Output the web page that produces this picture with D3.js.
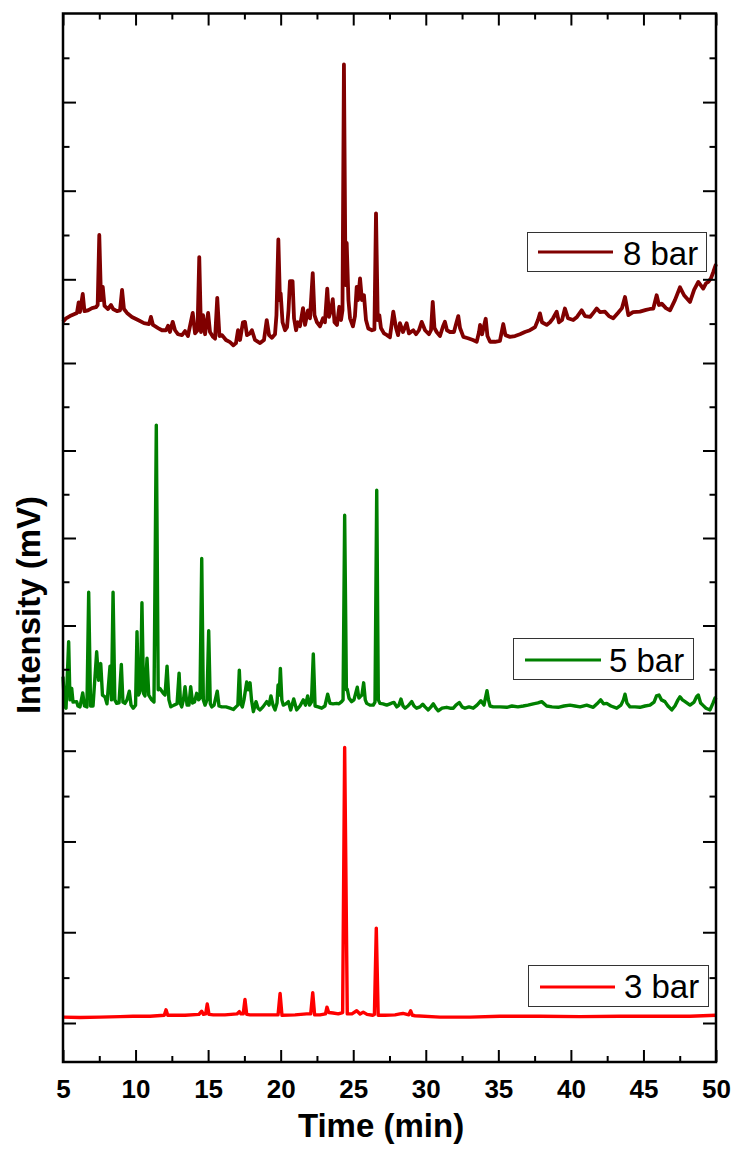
<!DOCTYPE html>
<html>
<head>
<meta charset="utf-8">
<script src="https://cdn.jsdelivr.net/npm/d3@7"></script>
<style>
  body { margin: 0; background: #fff; }
  svg { display: block; }
</style>
</head>
<body>
<svg id="chart" width="736" height="1149"></svg>
<script>
// Retention time axis (min)
const timeMajorTicks = [5, 10, 15, 20, 25, 30, 35, 40, 45, 50];
const timeMinorTicks = [7.5, 12.5, 17.5, 22.5, 27.5, 32.5, 37.5, 42.5, 47.5];

// Intensity tick values for each stacked layer (mV)
const ticks8 = [90, 100, 110, 120, 130, 140, 150];
const ticks5 = [0, 10, 20, 30, 40, 50, 60, 70, 80];
const ticks3 = [0, 10, 20, 30, 40, 50, 60];

const seriesNames = ["8 bar", "5 bar", "3 bar"];
const seriesColors = ["#800000", "#008000", "#ff0000"];
const seriesWidths = [3.8, 3.4, 3.4];

// Chromatogram at 8 bar: [time (min), intensity (mV)]
const bar8 = [
[5.00,90.4],[5.21,91.2],[5.48,91.7],[5.76,92.1],[5.96,92.4],[6.08,94.8],[6.17,92.6],[6.36,96.7],[6.48,92.8],[6.72,93.0],
[7.00,93.5],[7.27,93.7],[7.39,94.2],[7.50,110.0],[7.62,95.3],[7.74,98.3],[7.86,94.0],[8.10,93.3],[8.31,94.2],[8.45,93.3],
[8.72,92.8],[8.93,93.0],[9.07,97.6],[9.20,93.3],[9.41,92.4],[9.75,91.5],[10.17,90.8],[10.58,90.1],[10.93,89.9],[11.06,91.5],
[11.20,89.7],[11.55,89.0],[11.82,88.5],[12.10,88.5],[12.24,89.5],[12.37,88.1],[12.56,90.4],[12.72,88.5],[12.92,87.6],[13.20,87.4],
[13.41,88.3],[13.61,87.2],[13.94,92.4],[14.10,87.8],[14.27,88.5],[14.39,105.0],[14.51,88.1],[14.65,91.9],[14.79,87.6],[15.00,92.4],
[15.13,88.1],[15.34,87.0],[15.48,86.6],[15.63,95.8],[15.78,87.2],[15.96,87.4],[16.23,86.3],[16.51,85.8],[16.74,85.1],[16.92,85.6],
[17.06,88.5],[17.20,86.3],[17.40,90.3],[17.54,90.4],[17.68,87.4],[17.89,87.8],[18.02,88.5],[18.23,86.3],[18.58,85.6],[18.85,86.3],
[19.04,90.8],[19.20,87.4],[19.40,86.8],[19.61,87.6],[19.71,91.9],[19.84,109.0],[19.95,95.3],[20.00,96.8],[20.13,90.3],[20.30,88.5],
[20.44,89.2],[20.54,93.0],[20.64,99.6],[20.82,99.6],[20.92,91.2],[21.06,88.5],[21.19,90.3],[21.33,89.4],[21.54,93.5],[21.68,89.7],
[21.88,93.0],[22.02,91.2],[22.21,101.4],[22.33,91.9],[22.50,90.3],[22.71,89.4],[22.92,91.2],[23.05,90.3],[23.21,97.9],[23.33,91.5],
[23.47,93.0],[23.59,95.5],[23.71,90.3],[23.88,89.7],[24.04,93.8],[24.16,90.8],[24.26,93.0],[24.36,148.5],[24.47,98.7],[24.55,108.2],
[24.67,95.3],[24.78,91.2],[24.98,89.4],[25.12,91.7],[25.24,98.3],[25.33,95.3],[25.47,100.2],[25.60,95.3],[25.74,96.4],[25.88,90.8],
[26.04,88.9],[26.29,88.5],[26.46,88.7],[26.57,114.9],[26.69,90.8],[26.80,91.9],[26.91,89.0],[27.12,87.8],[27.33,87.4],[27.53,86.9],
[27.76,92.7],[27.95,89.0],[28.09,87.4],[28.22,90.1],[28.43,88.1],[28.68,90.1],[28.84,87.8],[29.14,88.5],[29.33,87.6],[29.53,88.5],
[29.72,90.4],[29.95,88.5],[30.22,87.6],[30.36,88.5],[30.48,94.9],[30.60,89.0],[30.75,88.1],[30.98,87.2],[31.19,89.4],[31.32,90.4],
[31.46,88.5],[31.67,88.1],[31.94,88.1],[32.12,90.3],[32.24,91.7],[32.36,89.0],[32.59,87.0],[32.91,86.7],[33.25,86.3],[33.51,85.9],
[33.67,88.1],[33.74,89.7],[33.88,87.6],[34.13,91.1],[34.25,87.2],[34.43,85.9],[34.77,85.9],[35.11,86.1],[35.34,89.9],[35.49,87.4],
[35.80,87.0],[36.15,87.2],[36.49,87.6],[36.83,88.1],[37.18,88.5],[37.53,89.2],[37.73,90.8],[37.87,92.3],[38.01,90.3],[38.33,89.7],
[38.56,90.3],[38.77,91.2],[39.02,92.7],[39.18,90.3],[39.39,90.8],[39.59,93.4],[39.80,91.2],[40.16,90.8],[40.42,91.5],[40.74,93.0],
[40.97,91.7],[41.32,91.5],[41.59,92.6],[41.78,93.4],[42.00,92.6],[42.35,92.7],[42.62,91.7],[42.92,91.2],[43.24,92.4],[43.52,93.5],
[43.73,96.0],[43.96,91.9],[44.28,92.6],[44.76,92.7],[45.18,93.1],[45.45,93.3],[45.68,93.4],[45.91,96.4],[46.07,94.2],[46.26,94.5],
[46.55,93.5],[46.83,93.0],[47.17,95.3],[47.52,98.2],[47.80,96.4],[48.21,94.9],[48.49,97.6],[48.78,99.4],[49.12,97.9],[49.31,99.1],
[49.47,99.4],[49.65,100.2],[49.81,101.6],[50.00,103.4]
];

// Chromatogram at 5 bar
const bar5 = [
[5.00,8.3],[5.10,1.6],[5.21,1.1],[5.39,16.3],[5.48,3.0],[5.60,5.6],[5.69,2.5],[5.94,2.6],[6.03,1.6],[6.17,1.4],
[6.36,4.6],[6.48,1.6],[6.65,1.4],[6.77,27.6],[6.90,1.6],[7.07,1.6],[7.32,14.0],[7.45,7.5],[7.60,11.3],[7.72,4.1],
[7.89,3.7],[8.03,2.1],[8.24,10.7],[8.34,3.0],[8.45,27.6],[8.57,3.0],[8.70,2.2],[8.86,2.3],[9.02,11.1],[9.13,2.5],
[9.27,2.2],[9.41,3.0],[9.57,5.0],[9.69,1.8],[9.84,1.1],[10.00,1.8],[10.10,18.6],[10.20,4.1],[10.26,4.5],[10.34,5.3],
[10.44,25.2],[10.55,4.5],[10.65,3.9],[10.79,12.5],[10.91,4.1],[11.11,3.0],[11.27,2.5],[11.43,65.8],[11.56,5.3],[11.68,5.6],
[11.91,4.5],[12.03,4.1],[12.17,10.7],[12.30,3.0],[12.43,1.4],[12.65,1.8],[12.86,2.1],[13.00,9.1],[13.10,2.1],[13.18,1.4],
[13.30,3.0],[13.41,6.0],[13.55,1.8],[13.68,1.8],[13.80,6.0],[13.93,2.3],[14.06,2.5],[14.21,4.5],[14.34,3.0],[14.44,3.4],
[14.56,35.3],[14.67,3.0],[14.79,1.8],[14.92,3.0],[15.04,18.8],[15.15,2.1],[15.25,1.4],[15.41,1.8],[15.63,5.0],[15.75,1.6],
[15.94,1.4],[16.23,1.4],[16.51,1.1],[16.74,0.8],[16.92,1.4],[17.05,1.8],[17.15,9.8],[17.25,2.1],[17.36,1.4],[17.47,3.0],
[17.66,7.1],[17.76,5.3],[17.89,6.9],[17.99,3.0],[18.12,0.3],[18.30,2.6],[18.44,1.1],[18.58,0.7],[18.78,1.4],[19.04,2.6],
[19.20,1.8],[19.33,3.9],[19.47,1.8],[19.61,0.7],[19.75,2.3],[19.82,6.4],[19.90,4.1],[19.98,10.2],[20.08,3.0],[20.18,1.8],
[20.37,2.1],[20.53,2.6],[20.69,0.7],[20.90,3.2],[21.10,0.7],[21.33,1.6],[21.56,3.0],[21.71,1.8],[21.86,3.9],[21.99,1.8],
[22.12,2.5],[22.25,13.5],[22.37,1.6],[22.58,1.4],[22.83,1.1],[23.05,1.6],[23.24,4.3],[23.40,2.2],[23.61,2.1],[23.86,2.2],
[24.02,2.1],[24.20,2.6],[24.30,3.0],[24.41,45.2],[24.53,5.3],[24.59,5.4],[24.71,3.4],[24.89,2.6],[25.05,3.0],[25.28,5.9],
[25.39,3.4],[25.47,3.7],[25.60,4.1],[25.72,6.9],[25.83,3.0],[25.93,2.2],[26.15,1.8],[26.38,1.8],[26.50,2.5],[26.62,50.9],
[26.73,3.0],[26.84,2.2],[27.05,2.1],[27.31,1.8],[27.53,2.1],[27.67,2.3],[27.81,2.4],[28.00,1.4],[28.15,1.8],[28.29,3.2],
[28.43,1.6],[28.57,1.1],[28.77,1.6],[29.03,2.6],[29.19,1.6],[29.37,1.1],[29.60,1.4],[29.79,2.0],[29.95,1.4],[30.17,0.7],
[30.36,1.4],[30.52,2.1],[30.70,1.1],[30.86,0.5],[31.12,1.1],[31.44,1.3],[31.67,1.1],[31.90,1.1],[32.08,1.8],[32.31,2.4],
[32.50,1.4],[32.70,1.1],[32.98,1.4],[33.27,1.1],[33.53,1.8],[33.80,2.8],[34.01,1.8],[34.11,3.4],[34.22,5.1],[34.32,3.0],
[34.43,1.6],[34.65,1.4],[35.11,1.4],[35.58,1.3],[35.94,1.6],[36.35,1.4],[36.72,1.6],[37.04,1.8],[37.41,2.1],[37.73,2.3],
[37.99,2.6],[38.33,1.6],[38.70,1.4],[39.13,1.3],[39.52,1.6],[39.94,1.8],[40.28,1.6],[40.63,1.4],[41.09,1.8],[41.54,1.3],
[41.80,2.1],[42.05,3.0],[42.25,2.1],[42.47,2.2],[42.76,1.6],[43.16,1.1],[43.45,1.8],[43.62,3.0],[43.73,4.3],[43.86,2.3],
[44.07,1.4],[44.42,1.4],[44.76,1.3],[45.11,1.6],[45.45,1.8],[45.73,2.5],[45.90,3.9],[46.07,4.1],[46.24,3.0],[46.48,2.6],
[46.69,1.6],[46.95,0.7],[47.17,1.6],[47.38,3.0],[47.52,3.7],[47.69,3.0],[47.87,2.6],[48.21,1.8],[48.49,2.5],[48.66,3.7],
[48.78,4.1],[48.94,2.3],[49.09,1.8],[49.31,1.1],[49.59,0.7],[49.80,2.3],[49.93,3.4],[50.00,3.0]
];

// Chromatogram at 3 bar
const bar3 = [
[5.00,1.3],[6.17,1.2],[7.55,1.3],[8.93,1.4],[9.82,1.5],[11.00,1.5],[11.98,1.7],[12.10,2.9],[12.22,1.7],[13.41,1.7],
[14.37,1.9],[14.56,2.6],[14.68,1.9],[14.83,2.0],[14.94,4.2],[15.06,1.9],[15.36,1.8],[16.16,1.8],[16.99,2.0],[17.15,2.5],
[17.27,2.0],[17.42,2.0],[17.54,5.2],[17.66,1.9],[17.89,1.8],[18.92,1.8],[19.82,1.8],[19.96,6.5],[20.09,1.7],[20.99,1.8],
[21.79,2.0],[22.07,2.0],[22.21,6.7],[22.34,1.8],[22.71,1.8],[23.09,2.0],[23.19,3.5],[23.31,2.3],[23.61,2.2],[23.97,2.0],
[24.27,2.3],[24.41,60.7],[24.59,2.0],[24.91,2.0],[25.24,2.7],[25.47,2.0],[25.69,2.4],[25.95,1.9],[26.34,1.7],[26.46,1.9],
[26.59,20.9],[26.72,1.7],[27.19,1.7],[27.88,1.8],[28.22,2.0],[28.43,2.1],[28.83,1.8],[28.96,2.7],[29.08,1.7],[29.26,1.6],
[30.98,1.3],[33.05,1.3],[35.11,1.5],[37.87,1.5],[40.63,1.4],[43.38,1.5],[46.14,1.5],[48.21,1.5],[50.00,1.7]
];

const svg = d3.select("#chart");
const plot = { left: 63, right: 716, top: 13.5, bottom: 1062 };

const x = d3.scaleLinear().domain([5, 50]).range([plot.left, plot.right]);

// Three stacked layers sharing one frame, each with its own intensity scale
const layers = [
  { data: bar8, y: d3.scaleLinear().domain([80, 160]).range([367.9, 13.5]), ticks: ticks8 },
  { data: bar5, y: d3.scaleLinear().domain([0, 80]).range([713, 363]), ticks: ticks5 },
  { data: bar3, y: d3.scaleLinear().domain([0, 60]).range([1023, 750.7]), ticks: ticks3 }
];

const fontFamily = "'Liberation Sans', Arial, Helvetica, sans-serif";

// Traces
layers.forEach((L, i) => {
  const line = d3.line().x(d => x(d[0])).y(d => L.y(d[1]));
  svg.append("path")
    .datum(L.data)
    .attr("fill", "none")
    .attr("stroke", seriesColors[i])
    .attr("stroke-width", seriesWidths[i])
    .attr("stroke-linejoin", "round")
    .attr("d", line);
});

// Vertical ticks (left and right), majors every 20 mV, minors in between
function styleAxis(g) {
  g.select(".domain").remove();
  g.selectAll(".tick line").attr("stroke", "#000").attr("stroke-width", 2);
  g.selectAll(".tick text").remove();
}
layers.forEach(L => {
  const major = L.ticks.filter(v => v % 20 === 0);
  const minor = L.ticks.filter(v => v % 20 !== 0);
  [[major, 13], [minor, 6.5]].forEach(([vals, len]) => {
    svg.append("g").attr("transform", `translate(${plot.left},0)`)
      .call(d3.axisLeft(L.y).tickValues(vals).tickSize(-len).tickFormat(""))
      .call(styleAxis);
    svg.append("g").attr("transform", `translate(${plot.right},0)`)
      .call(d3.axisRight(L.y).tickValues(vals).tickSize(-len).tickFormat(""))
      .call(styleAxis);
  });
});

// Time ticks on bottom (labelled) and top
svg.append("g").attr("transform", `translate(0,${plot.bottom})`)
  .call(d3.axisBottom(x).tickValues(timeMajorTicks).tickSize(-12).tickFormat(d3.format("d")))
  .call(g => {
    g.select(".domain").remove();
    g.selectAll(".tick line").attr("stroke", "#000").attr("stroke-width", 2);
    g.selectAll(".tick text")
      .attr("y", 36)
      .attr("dy", null)
      .attr("fill", "#000")
      .style("font-family", fontFamily)
      .style("font-weight", "bold")
      .style("font-size", "26px");
  });
svg.append("g").attr("transform", `translate(0,${plot.bottom})`)
  .call(d3.axisBottom(x).tickValues(timeMinorTicks).tickSize(-6).tickFormat(""))
  .call(styleAxis);
svg.append("g").attr("transform", `translate(0,${plot.top})`)
  .call(d3.axisTop(x).tickValues(timeMajorTicks).tickSize(-12).tickFormat(""))
  .call(styleAxis);
svg.append("g").attr("transform", `translate(0,${plot.top})`)
  .call(d3.axisTop(x).tickValues(timeMinorTicks).tickSize(-6).tickFormat(""))
  .call(styleAxis);

// Frame
svg.append("rect")
  .attr("x", plot.left).attr("y", plot.top)
  .attr("width", plot.right - plot.left).attr("height", plot.bottom - plot.top)
  .attr("fill", "none").attr("stroke", "#000").attr("stroke-width", 2.5);

// Axis titles
svg.append("text")
  .attr("x", 381).attr("y", 1137)
  .attr("text-anchor", "middle")
  .style("font-family", fontFamily).style("font-weight", "bold").style("font-size", "33px")
  .text("Time (min)");
svg.append("text")
  .attr("transform", "translate(40,605) rotate(-90)")
  .attr("text-anchor", "middle")
  .style("font-family", fontFamily).style("font-weight", "bold").style("font-size", "33px")
  .text("Intensity (mV)");

// Legends, one per layer
const legendBoxes = [
  { x: 527, y: 232, w: 179, h: 39, lx1: 538, lx2: 613, ly: 252, tx: 623, ty: 265 },
  { x: 513, y: 638, w: 180, h: 41, lx1: 525, lx2: 601, ly: 660, tx: 609, ty: 672 },
  { x: 528, y: 965, w: 180, h: 41, lx1: 540, lx2: 615, ly: 987, tx: 624, ty: 998 }
];
legendBoxes.forEach((b, i) => {
  const g = svg.append("g");
  g.append("rect").attr("x", b.x + 0.5).attr("y", b.y + 0.5).attr("width", b.w).attr("height", b.h)
    .attr("fill", "#fff").attr("stroke", "#333").attr("stroke-width", 1);
  g.append("line").attr("x1", b.lx1).attr("x2", b.lx2).attr("y1", b.ly).attr("y2", b.ly)
    .attr("stroke", seriesColors[i]).attr("stroke-width", 3);
  g.append("text").attr("x", b.tx).attr("y", b.ty)
    .style("font-family", fontFamily).style("font-size", "33px").attr("fill", "#000")
    .text(seriesNames[i]);
});
</script>
</body>
</html>
